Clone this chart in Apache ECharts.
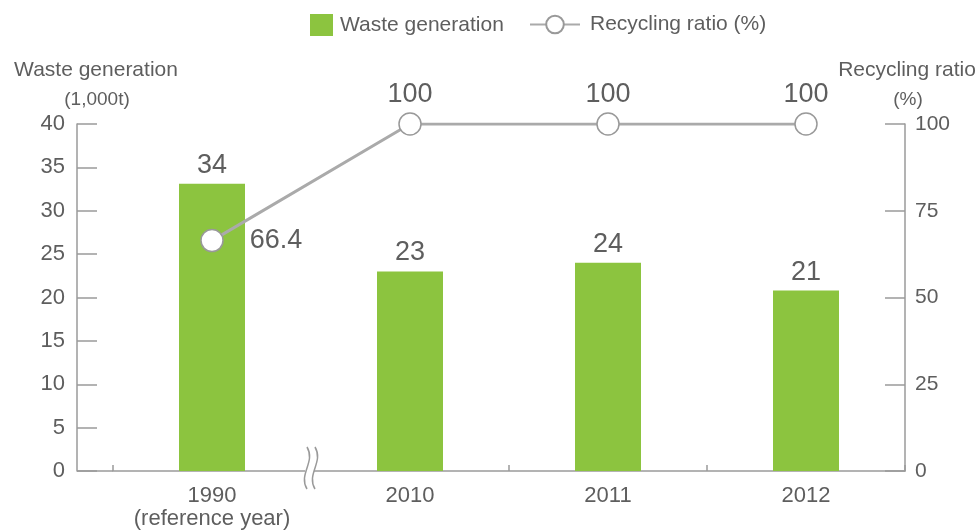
<!DOCTYPE html>
<html><head><meta charset="utf-8">
<script src="https://cdn.jsdelivr.net/npm/echarts@6/dist/echarts.min.js"></script>
<style>html,body{margin:0;padding:0;background:#fff}#c{width:980px;height:530px}</style>
</head><body><div id="c"></div>
<script>
const categories = ['1990\n(reference year)', '2010', '2011', '2012'];
const wasteGeneration = [33.1, 23, 24, 20.8];
const wasteLabels = ['34', '23', '24', '21'];
const recyclingRatio = [66.4, 100, 100, 100];
const leftAxis = { min: 0, max: 40, interval: 5, name: 'Waste generation', unit: '(1,000t)' };
const rightAxis = { min: 0, max: 100, interval: 25, name: 'Recycling ratio', unit: '(%)' };

const FONT = '"Liberation Sans", Arial, Helvetica, sans-serif';
const TXT = '#5e5e5e';
const AX = '#9a9a9a';
const GREEN = '#8cc43f';

const chart = echarts.init(document.getElementById('c'), null, { renderer: 'canvas' });
chart.setOption({
  animation: false,
  backgroundColor: '#fff',
  textStyle: { fontFamily: FONT, color: TXT },
  grid: { left: 113, right: 75, top: 124, bottom: 59, containLabel: false },
  legend: [
    {
      data: ['Waste generation'], left: 310, top: 14, padding: 0, itemGap: 7,
      itemWidth: 23, itemHeight: 22, icon: 'rect',
      textStyle: { fontSize: 21, color: TXT, fontFamily: FONT, padding: [0, 0, 0, 2] }
    },
    {
      data: ['Recycling ratio (%)'], left: 529, top: 14, padding: 0,
      itemWidth: 50, itemHeight: 22,
      textStyle: { fontSize: 21, color: TXT, fontFamily: FONT, padding: [0, 0, 0, 5] }
    }
  ],
  xAxis: {
    type: 'category',
    data: categories,
    axisLine: { show: true, lineStyle: { color: AX, width: 1.5 } },
    axisTick: { show: true, inside: true, length: 6, interval: 0, lineStyle: { color: AX, width: 1.5 } },
    axisLabel: { color: TXT, fontSize: 22, margin: 13, lineHeight: 23, interval: 0, fontFamily: FONT },
    splitLine: { show: false }
  },
  yAxis: [
    {
      type: 'value', position: 'left', offset: 36,
      min: leftAxis.min, max: leftAxis.max, interval: leftAxis.interval,
      axisLine: { show: true, lineStyle: { color: AX, width: 1.5 } },
      axisTick: { show: true, inside: true, length: 20, lineStyle: { color: AX, width: 1.5 } },
      axisLabel: { color: TXT, fontSize: 22, margin: 12, fontFamily: FONT },
      splitLine: { show: false }
    },
    {
      type: 'value', position: 'right',
      min: rightAxis.min, max: rightAxis.max, interval: rightAxis.interval,
      axisLine: { show: true, lineStyle: { color: AX, width: 1.5 } },
      axisTick: { show: true, inside: true, length: 20, lineStyle: { color: AX, width: 1.5 } },
      axisLabel: { color: TXT, fontSize: 21, margin: 10, fontFamily: FONT },
      splitLine: { show: false }
    }
  ],
  series: [
    {
      name: 'Waste generation',
      type: 'bar',
      yAxisIndex: 0,
      data: wasteGeneration,
      barWidth: 66,
      itemStyle: { color: GREEN },
      label: {
        show: true, position: 'top', distance: 5,
        color: TXT, fontSize: 27, fontFamily: FONT,
        formatter: p => wasteLabels[p.dataIndex]
      },
      z: 2
    },
    {
      name: 'Recycling ratio (%)',
      type: 'line',
      yAxisIndex: 1,
      data: recyclingRatio.map((v, i) => ({
        value: v,
        label: i === 0 ? { position: 'right', distance: 26 } : { position: 'top', distance: 4 }
      })),
      symbol: 'circle',
      symbolSize: 22,
      lineStyle: { color: '#aaaaaa', width: 3 },
      itemStyle: { color: '#ffffff', borderColor: '#999999', borderWidth: 1.5 },
      label: { show: true, color: TXT, fontSize: 27, fontFamily: FONT },
      z: 5
    }
  ],
  graphic: [
    { type: 'line', shape: { x1: 77, y1: 471, x2: 113, y2: 471 }, style: { stroke: AX, lineWidth: 1.5 }, z: 10 },
    { type: 'rect', shape: { x: 305, y: 462, width: 9, height: 16 }, style: { fill: '#fff' }, z: 11 },
    { type: 'bezierCurve', shape: { x1: 307, y1: 447, cpx1: 316, cpy1: 462, cpx2: 298, cpy2: 474, x2: 307, y2: 489 }, style: { stroke: AX, lineWidth: 1.5, fill: null }, z: 12 },
    { type: 'bezierCurve', shape: { x1: 315, y1: 447, cpx1: 324, cpy1: 462, cpx2: 306, cpy2: 474, x2: 315, y2: 489 }, style: { stroke: AX, lineWidth: 1.5, fill: null }, z: 12 },
    { type: 'text', style: { text: leftAxis.name, x: 96, y: 70, textAlign: 'center', textVerticalAlign: 'middle', font: '21px ' + FONT, fill: TXT } },
    { type: 'text', style: { text: leftAxis.unit, x: 97, y: 100, textAlign: 'center', textVerticalAlign: 'middle', font: '19px ' + FONT, fill: TXT } },
    { type: 'text', style: { text: rightAxis.name, x: 907, y: 70, textAlign: 'center', textVerticalAlign: 'middle', font: '21px ' + FONT, fill: TXT } },
    { type: 'text', style: { text: rightAxis.unit, x: 908, y: 100, textAlign: 'center', textVerticalAlign: 'middle', font: '19px ' + FONT, fill: TXT } }
  ]
});
</script>
</body></html>
